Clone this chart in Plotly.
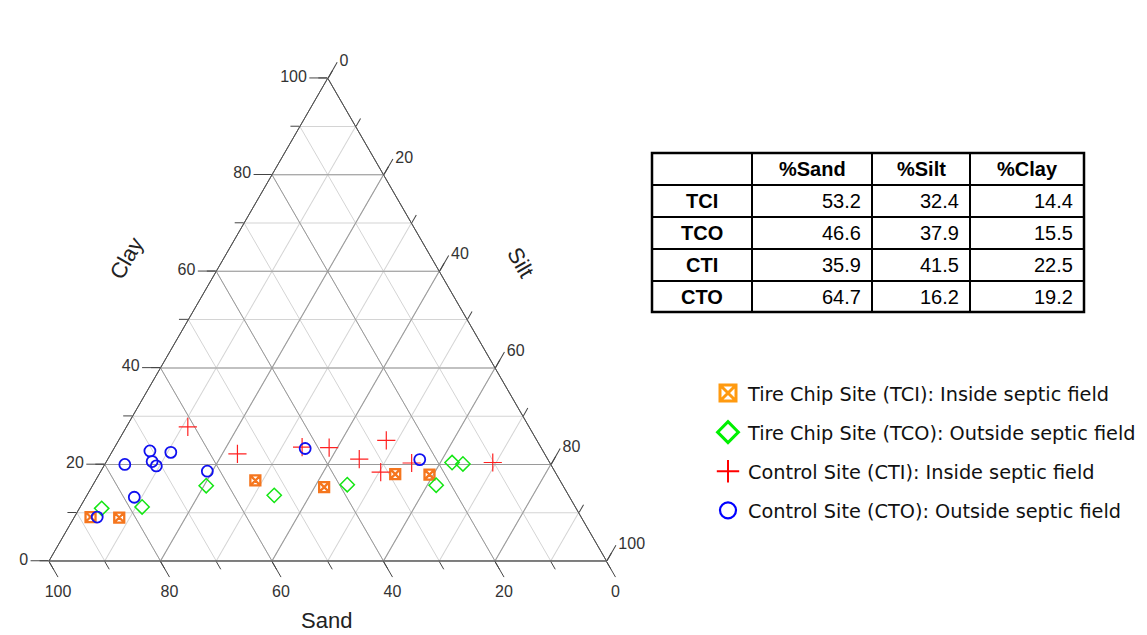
import plotly.graph_objects as go

# Soil texture samples (percent sand / silt / clay) for each site
tci_sand = [88.0, 82.9, 54.7, 43.0, 28.9, 22.8]
tci_silt = [2.9, 8.1, 28.7, 41.7, 53.1, 59.3]
tci_clay = [9.1, 9.0, 16.7, 15.3, 18.0, 17.9]

tco_sand = [85.1, 77.7, 64.0, 52.8, 38.6, 17.5, 15.7, 22.7]
tco_silt = [4.0, 11.1, 20.4, 33.6, 45.6, 62.1, 64.2, 61.6]
tco_clay = [10.9, 11.2, 15.6, 13.6, 15.8, 20.4, 20.1, 15.7]

cti_sand = [61.2, 55.1, 42.8, 38.0, 27.0, 33.8, 24.8, 31.3, 10.2]
cti_silt = [11.0, 22.7, 33.6, 38.5, 48.0, 45.1, 54.9, 50.3, 69.4]
cti_clay = [27.8, 22.2, 23.6, 23.5, 25.0, 21.1, 20.3, 18.4, 20.4]

cto_sand = [70.5, 66.9, 71.2, 70.9, 76.4, 62.3, 78.1, 86.8, 42.4, 23.0]
cto_silt = [6.7, 10.6, 8.2, 9.4, 3.6, 19.1, 8.7, 4.1, 34.3, 56.0]
cto_clay = [22.8, 22.5, 20.6, 19.7, 20.0, 18.6, 13.2, 9.1, 23.3, 21.0]

# Summary table (site means)
table_header = ["", "%Sand", "%Silt", "%Clay"]
table_sites = ["TCI", "TCO", "CTI", "CTO"]
mean_sand = [53.2, 46.6, 35.9, 64.7]
mean_silt = [32.4, 37.9, 41.5, 16.2]
mean_clay = [14.4, 15.5, 22.5, 19.2]

major_ticks = [0, 20, 40, 60, 80, 100]
minor_ticks = [0, 10, 20, 30, 40, 50, 60, 70, 80, 90, 100]

W, H = 1147, 635
ARIAL = "Liberation Sans, Arial, sans-serif"
tick_font = dict(family=ARIAL, size=16, color="#333333")


def px_x(v):
    return v / W


def px_y(v):
    return 1 - v / H


fig = go.Figure()

# empty trace that anchors the minor-grid ternary underneath
fig.add_trace(go.Scatterternary(a=[], b=[], c=[], subplot="ternary",
                                showlegend=False, hoverinfo="skip"))

series = [
    ("Tire Chip Site (TCI): Inside septic field", tci_sand, tci_silt, tci_clay,
     dict(symbol="square-x-open", size=10, color="#F5761E", line=dict(width=2.3, color="#F5761E")),
     dict(symbol="square-x-open", size=16, color="#FF9A10", line=dict(width=3, color="#FF9A10"))),
    ("Tire Chip Site (TCO): Outside septic field", tco_sand, tco_silt, tco_clay,
     dict(symbol="diamond-open", size=11, color="#14E614", line=dict(width=1.5, color="#14E614")),
     dict(symbol="diamond-open", size=16, color="#00F000", line=dict(width=3, color="#00F000"))),
    ("Control Site (CTI): Inside septic field", cti_sand, cti_silt, cti_clay,
     dict(symbol="cross-thin-open", size=13, color="#FF2020", line=dict(width=1.2, color="#FF2020")),
     dict(symbol="cross-thin-open", size=16, color="#FF0000", line=dict(width=2, color="#FF0000"))),
    ("Control Site (CTO): Outside septic field", cto_sand, cto_silt, cto_clay,
     dict(symbol="circle-open", size=11, color="#1010F0", line=dict(width=1.8, color="#1010F0")),
     dict(symbol="circle-open", size=16, color="#0000FF", line=dict(width=2.2, color="#0000FF"))),
]

for i, (name, sand, silt, clay, marker, legend_marker) in enumerate(series):
    fig.add_trace(go.Scatterternary(
        a=clay, b=sand, c=silt, mode="markers", name=name, marker=marker,
        subplot="ternary2", legendgroup=f"g{i}", showlegend=False,
    ))
    # legend entry drawn with a larger symbol
    fig.add_trace(go.Scatterternary(
        a=[None], b=[None], c=[None], mode="markers", name=name, marker=legend_marker,
        subplot="ternary2", legendgroup=f"g{i}", hoverinfo="skip",
    ))

# ---- summary table: grid lines + cell text ----
col_edges = [652, 752, 872, 970, 1084]
row_edges = [153, 185, 217, 249, 281, 312]
table_line = dict(color="black", width=2)

fig.add_shape(type="rect", xref="paper", yref="paper",
              x0=px_x(col_edges[0]), x1=px_x(col_edges[-1]),
              y0=px_y(row_edges[-1]), y1=px_y(row_edges[0]),
              line=dict(color="black", width=2.5), fillcolor="white", layer="below")
for cx in col_edges[1:-1]:
    fig.add_shape(type="line", xref="paper", yref="paper",
                  x0=px_x(cx), x1=px_x(cx), y0=px_y(row_edges[-1]), y1=px_y(row_edges[0]),
                  line=table_line)
for ry in row_edges[1:-1]:
    fig.add_shape(type="line", xref="paper", yref="paper",
                  x0=px_x(col_edges[0]), x1=px_x(col_edges[-1]), y0=px_y(ry), y1=px_y(ry),
                  line=table_line)

cell_font = dict(family=ARIAL, size=20, color="black")


def row_mid(r):
    return px_y((row_edges[r] + row_edges[r + 1]) / 2)


for j, htxt in enumerate(table_header):
    if htxt:
        fig.add_annotation(text=f"<b>{htxt}</b>", xref="paper", yref="paper",
                           x=px_x((col_edges[j] + col_edges[j + 1]) / 2), y=row_mid(0),
                           xanchor="center", yanchor="middle", showarrow=False, font=cell_font)

for r, site in enumerate(table_sites):
    fig.add_annotation(text=f"<b>{site}</b>", xref="paper", yref="paper",
                       x=px_x((col_edges[0] + col_edges[1]) / 2), y=row_mid(r + 1),
                       xanchor="center", yanchor="middle", showarrow=False, font=cell_font)
    for j, col in enumerate([mean_sand, mean_silt, mean_clay]):
        fig.add_annotation(text=f"{col[r]:.1f}", xref="paper", yref="paper",
                           x=px_x(col_edges[j + 2] - 9), y=row_mid(r + 1),
                           xanchor="right", yanchor="middle", showarrow=False, font=cell_font)

dom = dict(x=[px_x(49), px_x(606.5)], y=[px_y(561), px_y(78.19)])


def minor_axis():
    return dict(tickmode="array", tickvals=minor_ticks, showticklabels=False,
                ticks="outside", ticklen=9, tickcolor="#444444",
                showgrid=True, gridcolor="#d4d4d4", gridwidth=1,
                showline=True, linecolor="#555555", linewidth=1, title=dict(text=""))


def major_axis():
    return dict(tickmode="array", tickvals=major_ticks, ticktext=[str(t) for t in major_ticks],
                tickfont=tick_font, ticks="outside", ticklen=18, tickcolor="#444444",
                showgrid=True, gridcolor="#9a9a9a", gridwidth=1,
                showline=True, linecolor="#555555", linewidth=1, title=dict(text=""))


fig.update_layout(
    width=W, height=H,
    margin=dict(l=0, r=0, t=0, b=0),
    paper_bgcolor="white", plot_bgcolor="white",
    ternary=dict(sum=100, domain=dom, bgcolor="white",
                 aaxis=minor_axis(), baxis=minor_axis(), caxis=minor_axis()),
    ternary2=dict(sum=100, domain=dom, bgcolor="rgba(0,0,0,0)",
                  aaxis=major_axis(), baxis=major_axis(), caxis=major_axis()),
    legend=dict(x=px_x(708), y=px_y(374), xanchor="left", yanchor="top",
                font=dict(family="DejaVu Sans, Verdana, sans-serif", size=19.3, color="#111111"),
                bgcolor="rgba(0,0,0,0)", traceorder="grouped", tracegroupgap=11),
    showlegend=True,
)

title_font = dict(family=ARIAL, size=22, color="#222222")
fig.add_annotation(text="Sand", x=px_x(326), y=px_y(620), xref="paper", yref="paper",
                   xanchor="center", yanchor="middle", showarrow=False, font=title_font)
fig.add_annotation(text="Clay", x=px_x(126), y=px_y(258), xref="paper", yref="paper",
                   xanchor="center", yanchor="middle", showarrow=False, font=title_font,
                   textangle=-60)
fig.add_annotation(text="Silt", x=px_x(521), y=px_y(262), xref="paper", yref="paper",
                   xanchor="center", yanchor="middle", showarrow=False, font=title_font,
                   textangle=60)

fig.write_html("out.html")
